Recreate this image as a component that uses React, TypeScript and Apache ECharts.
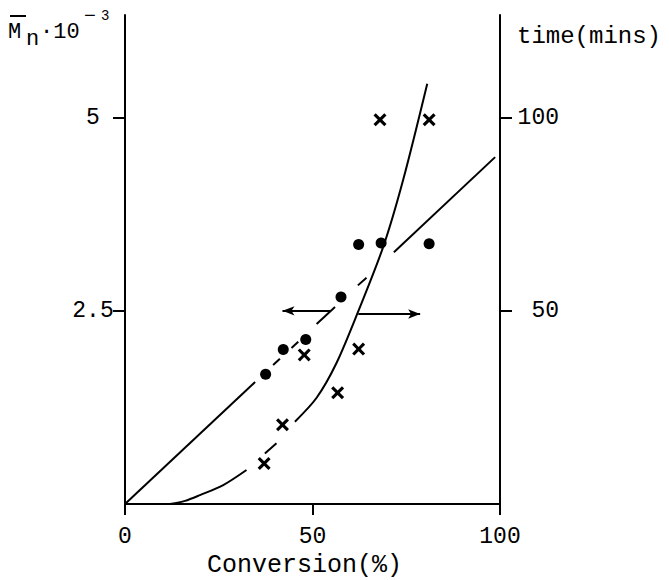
import React, { useEffect, useRef } from "react";
import * as echarts from "echarts";

// Molecular weight (Mn·10^-3) data points: [conversion %, Mn]
const MN_X = [37.5, 42.2, 48.2, 57.6, 62.3, 68.3, 81.1];
const MN_Y = [1.68, 2.0, 2.13, 2.68, 3.36, 3.38, 3.37];

// Time data points: [conversion %, minutes]
const TIME_X = [37.1, 42.0, 47.8, 56.7, 62.3, 68.0, 81.1];
const TIME_Y = [10.5, 20.5, 38.6, 28.8, 40.1, 99.5, 99.5];

// Straight Mn line, drawn as read: solid start, dashes, solid end
const MN_LINE_SEGMENTS: number[][][] = [
  [[0, 0], [34.7, 1.58]],
  [[39.5, 1.8], [41.3, 1.88]],
  [[44.4, 2.02], [46.2, 2.1]],
  [[51.1, 2.33], [56.0, 2.55]],
  [[62.1, 2.83], [64.4, 2.93]],
  [[71.7, 3.26], [98.7, 4.49]],
];

// Time curve, read in three pieces (the middle one is a short dash)
const TIME_CURVE_SEGMENTS: number[][][] = [
  [[12, 0], [16, 0.8], [20, 2.3], [26.2, 4.9], [32.4, 8.8]],
  [[37.3, 13.1], [40.4, 15.7]],
  [[45.3, 21.3], [51.1, 27.5], [56.4, 36.5], [62, 49.4], [68.9, 66.7], [74.2, 84], [80.6, 108.8]],
];

// Arrows (from -> to) pointing at the relevant axes
const ARROW_MN = { from: 54.7, to: 42, y: 2.5 };
const ARROW_TIME = { from: 62.2, to: 78.7, y: 49.2 };

const X_TICKS = [0, 50, 100];
const MN_TICKS = [2.5, 5];
const TIME_TICKS = [50, 100];

const FONT = "'Liberation Mono', 'DejaVu Sans Mono', monospace";
const CROSS =
  "path://M0,1.7L1.7,0L5,3.3L8.3,0L10,1.7L6.7,5L10,8.3L8.3,10L5,6.7L1.7,10L0,8.3L3.3,5Z";

export default function App() {
  const ref = useRef<HTMLDivElement>(null);

  useEffect(() => {
    document.body.style.margin = "0";
    if (!ref.current) return;
    const chart = echarts.init(ref.current, null, { renderer: "svg" });

    const lineStyle = { color: "#000", width: 2 };

    const series: any[] = [
      {
        type: "scatter",
        yAxisIndex: 0,
        symbol: "circle",
        symbolSize: 11,
        itemStyle: { color: "#000", opacity: 1 },
        data: MN_X.map((x, i) => [x, MN_Y[i]]),
        z: 5,
        markLine: {
          silent: true,
          symbol: ["none", "arrow"],
          symbolSize: [7, 12],
          label: { show: false },
          lineStyle: { color: "#000", width: 2, type: "solid" },
          data: [[{ coord: [ARROW_MN.from, ARROW_MN.y] }, { coord: [ARROW_MN.to, ARROW_MN.y] }]],
        },
      },
      {
        type: "scatter",
        yAxisIndex: 1,
        symbol: CROSS,
        symbolSize: 13,
        itemStyle: { color: "#000", opacity: 1 },
        data: TIME_X.map((x, i) => [x, TIME_Y[i]]),
        z: 5,
        markLine: {
          silent: true,
          symbol: ["none", "arrow"],
          symbolSize: [7, 12],
          label: { show: false },
          lineStyle: { color: "#000", width: 2, type: "solid" },
          data: [[{ coord: [ARROW_TIME.from, ARROW_TIME.y] }, { coord: [ARROW_TIME.to, ARROW_TIME.y] }]],
        },
      },
    ];

    MN_LINE_SEGMENTS.forEach((seg) => {
      series.push({
        type: "line",
        yAxisIndex: 0,
        showSymbol: false,
        symbol: "none",
        lineStyle,
        data: seg,
      });
    });
    TIME_CURVE_SEGMENTS.forEach((seg) => {
      series.push({
        type: "line",
        yAxisIndex: 1,
        showSymbol: false,
        symbol: "none",
        smooth: 0.3,
        lineStyle,
        data: seg,
      });
    });

    const axisLabelBase = { color: "#000", fontFamily: FONT, fontSize: 23 };

    chart.setOption({
      animation: false,
      backgroundColor: "#fff",
      grid: { left: 125, right: 169, top: 15, bottom: 76 },
      xAxis: {
        type: "value",
        min: 0,
        max: 100,
        interval: 50,
        axisLine: { show: true, lineStyle: { color: "#000", width: 2 } },
        axisTick: { show: true, length: 11, lineStyle: { color: "#000", width: 2 }, customValues: X_TICKS },
        axisLabel: { ...axisLabelBase, margin: 21, customValues: X_TICKS },
        splitLine: { show: false },
      },
      yAxis: [
        {
          type: "value",
          position: "left",
          min: 0,
          max: 6.33,
          axisLine: { show: true, lineStyle: { color: "#000", width: 2 } },
          axisTick: { show: true, length: 12, lineStyle: { color: "#000", width: 2 }, customValues: MN_TICKS },
          axisLabel: {
            ...axisLabelBase,
            align: "center",
            margin: 32,
            padding: [0, 0, 10, 0],
            customValues: MN_TICKS,
            formatter: (v: number) => String(v),
          },
          splitLine: { show: false },
        },
        {
          type: "value",
          position: "right",
          min: 0,
          max: 126.6,
          axisLine: { show: true, lineStyle: { color: "#000", width: 2 } },
          axisTick: { show: true, length: 12, lineStyle: { color: "#000", width: 2 }, customValues: TIME_TICKS },
          axisLabel: {
            ...axisLabelBase,
            align: "right",
            margin: 59,
            padding: [0, 0, 4, 0],
            customValues: TIME_TICKS,
            formatter: (v: number) => String(v),
          },
          splitLine: { show: false },
        },
      ],
      graphic: [
        {
          type: "text",
          left: 207,
          top: 553,
          style: { text: "Conversion(%)", font: `25px ${FONT}`, fill: "#000" },
        },
        {
          type: "text",
          left: 517,
          top: 24,
          style: { text: "time(mins)", font: `24px ${FONT}`, fill: "#000" },
        },
        { type: "text", left: 8, top: 21, style: { text: "M", font: `22px ${FONT}`, fill: "#000" } },
        { type: "text", left: 26, top: 28, style: { text: "n", font: `22px ${FONT}`, fill: "#000" } },
        { type: "text", left: 40, top: 21, style: { text: "·10", font: `22px ${FONT}`, fill: "#000" } },
        { type: "text", left: 84, top: 6, style: { text: "−", font: `20px ${FONT}`, fill: "#000" } },
        { type: "text", left: 101, top: 9, style: { text: "3", font: `14px ${FONT}`, fill: "#000" } },
        {
          type: "line",
          shape: { x1: 10, y1: 16, x2: 26, y2: 16 },
          style: { stroke: "#000", lineWidth: 2 },
        },
      ],
      series,
    });

    return () => chart.dispose();
  }, []);

  return <div ref={ref} style={{ width: 669, height: 580 }} />;
}
